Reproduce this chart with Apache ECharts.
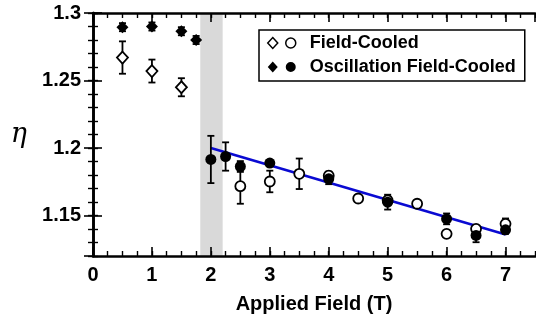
<!DOCTYPE html>
<html>
<head>
<meta charset="utf-8">
<script src="https://cdn.jsdelivr.net/npm/echarts@6/dist/echarts.min.js"></script>
<style>
  html, body { margin: 0; padding: 0; background: #fff; }
  #chart { width: 536px; height: 323px; }
</style>
</head>
<body>
<div id="chart"></div>
<script>
// Field-Cooled (open symbols)
const fcDiamondX = [0.5, 1, 1.5];
const fcDiamondY = [1.267, 1.257, 1.245];
const fcDiamondErr = [0.012, 0.0085, 0.0067];
const fcCircleX = [2.5, 3, 3.5, 4, 4.5, 5, 5.5, 6, 6.5, 7];
const fcCircleY = [1.1717, 1.1752, 1.1809, 1.1795, 1.1626, 1.1612, 1.1587, 1.1364, 1.1401, 1.1438];
const fcCircleErr = [0.013, 0.008, 0.0113, 0.003, 0.002, 0.003, 0.002, 0.002, 0.002, 0.004];

// Oscillation Field-Cooled (filled symbols)
const ofcDiamondX = [0.5, 1, 1.5, 1.75];
const ofcDiamondY = [1.2895, 1.29, 1.2865, 1.28];
const ofcDiamondErr = [0.003, 0.003, 0.003, 0.003];
const ofcCircleX = [2, 2.25, 2.5, 3, 4, 5, 6, 6.5, 7];
const ofcCircleY = [1.1915, 1.1937, 1.1863, 1.1888, 1.1772, 1.1599, 1.1475, 1.1352, 1.1394];
const ofcCircleErr = [0.0175, 0.0105, 0.004, 0.002, 0.004, 0.0055, 0.004, 0.005, 0.003];

// linear fit and shaded band
const fitX = [2, 7];
const fitY = [1.2, 1.136];
const bandX = [1.82, 2.2];

const FONT = 'Liberation Sans';
const pts = (xs, ys) => xs.map((x, i) => [x, ys[i]]);

const errorSeries = (name, xs, ys, errs) => ({
  type: 'custom',
  name,
  z: 2,
  silent: true,
  data: xs.map((x, i) => [x, ys[i] - errs[i], ys[i] + errs[i]]),
  encode: { x: 0, y: [1, 2] },
  renderItem: (params, api) => {
    const lo = api.coord([api.value(0), api.value(1)]);
    const hi = api.coord([api.value(0), api.value(2)]);
    const w = 3.5;
    const style = { stroke: '#000', lineWidth: 1.8 };
    return {
      type: 'group',
      children: [
        { type: 'line', shape: { x1: lo[0], y1: lo[1], x2: hi[0], y2: hi[1] }, style },
        { type: 'line', shape: { x1: lo[0] - w, y1: lo[1], x2: lo[0] + w, y2: lo[1] }, style },
        { type: 'line', shape: { x1: hi[0] - w, y1: hi[1], x2: hi[0] + w, y2: hi[1] }, style },
      ],
    };
  },
});

const openStyle = { color: '#fff', borderColor: '#000', borderWidth: 1.8, opacity: 1 };
const filledStyle = { color: '#000', borderColor: '#000', borderWidth: 0, opacity: 1 };

const majorTick = { show: true, inside: true, length: 9, lineStyle: { color: '#000', width: 1.6 } };
const minorTick = { show: true, inside: true, length: 5, lineStyle: { color: '#000', width: 1.4 } };
const axisLine = { show: true, lineStyle: { color: '#000', width: 2.6 } };
const labelStyle = { color: '#000', fontFamily: FONT, fontWeight: 'bold', fontSize: 20 };

const chart = echarts.init(document.getElementById('chart'), null, { renderer: 'canvas' });

chart.setOption({
  animation: false,
  backgroundColor: '#fff',
  grid: { left: 93, right: 1, top: 13, bottom: 67 },
  legend: {
    orient: 'vertical',
    left: 259,
    top: 30,
    padding: [4, 9, 5, 8],
    itemGap: 6,
    itemWidth: 28,
    itemHeight: 11,
    borderColor: '#000',
    borderWidth: 1.5,
    backgroundColor: '#fff',
    textStyle: { color: '#000', fontFamily: FONT, fontWeight: 'bold', fontSize: 18, padding: [0, 0, 0, 9] },
    icon: 'path://M5,0L10,5.5L5,11L0,5.5Z M18,5.5A5,5 0 1,0 28,5.5A5,5 0 1,0 18,5.5Z',
    data: [
      { name: 'Field-Cooled', itemStyle: { color: '#fff', borderColor: '#000', borderWidth: 1.5, opacity: 1 } },
      { name: 'Oscillation Field-Cooled', itemStyle: { color: '#000', borderColor: '#000', borderWidth: 0, opacity: 1 } },
    ],
  },
  xAxis: [
    {
      type: 'value', position: 'bottom', min: 0, max: 7.5, interval: 1, z: 10,
      axisLine, axisTick: majorTick, splitLine: { show: false },
      axisLabel: { ...labelStyle, margin: 9, showMaxLabel: false },
      name: 'Applied Field (T)', nameLocation: 'middle', nameGap: 38,
      nameTextStyle: { color: '#000', fontFamily: FONT, fontWeight: 'bold', fontSize: 20 },
    },
    {
      type: 'value', position: 'top', min: 0, max: 7.5, interval: 1, z: 10,
      axisLine, axisTick: majorTick, axisLabel: { show: false }, splitLine: { show: false },
    },
    {
      type: 'value', position: 'bottom', min: 0, max: 7.5, interval: 0.25, z: 10,
      axisLine: { show: false }, axisTick: minorTick, axisLabel: { show: false }, splitLine: { show: false },
    },
    {
      type: 'value', position: 'top', min: 0, max: 7.5, interval: 0.25, z: 10,
      axisLine: { show: false }, axisTick: minorTick, axisLabel: { show: false }, splitLine: { show: false },
    },
  ],
  yAxis: [
    {
      type: 'value', position: 'left', min: 1.12, max: 1.3, splitNumber: 4, z: 10,
      axisLine, axisTick: majorTick, splitLine: { show: false },
      axisLabel: { ...labelStyle, margin: 12, showMinLabel: false },
      name: 'η', nameLocation: 'middle', nameGap: 66, nameRotate: 0,
      nameTextStyle: { color: '#000', fontFamily: 'DejaVu Serif', fontStyle: 'italic', fontSize: 27 },
    },
    {
      type: 'value', position: 'right', min: 1.12, max: 1.3, splitNumber: 4, z: 10,
      axisLine, axisTick: majorTick, axisLabel: { show: false }, splitLine: { show: false },
    },
    {
      type: 'value', position: 'left', min: 1.12, max: 1.3, interval: 0.01, z: 10,
      axisLine: { show: false }, axisTick: minorTick, axisLabel: { show: false }, splitLine: { show: false },
    },
    {
      type: 'value', position: 'right', min: 1.12, max: 1.3, interval: 0.01, z: 10,
      axisLine: { show: false }, axisTick: minorTick, axisLabel: { show: false }, splitLine: { show: false },
    },
  ],
  series: [
    {
      name: 'band', type: 'line', z: 0, data: [], silent: true,
      markArea: {
        silent: true,
        itemStyle: { color: '#d9d9d9' },
        data: [[{ xAxis: bandX[0] }, { xAxis: bandX[1] }]],
      },
    },
    {
      name: 'fit', type: 'line', z: 1, silent: true,
      data: pts(fitX, fitY), showSymbol: false, symbol: 'none',
      lineStyle: { color: '#0a0ad2', width: 2.6 },
    },
    errorSeries('errFCd', fcDiamondX, fcDiamondY, fcDiamondErr),
    errorSeries('errFCc', fcCircleX, fcCircleY, fcCircleErr),
    errorSeries('errOFCd', ofcDiamondX, ofcDiamondY, ofcDiamondErr),
    errorSeries('errOFCc', ofcCircleX, ofcCircleY, ofcCircleErr),
    {
      name: 'Field-Cooled', type: 'scatter', z: 3, symbol: 'diamond', symbolSize: [11, 12],
      itemStyle: openStyle, data: pts(fcDiamondX, fcDiamondY),
    },
    {
      name: 'Field-Cooled', type: 'scatter', z: 3, symbol: 'circle', symbolSize: 10,
      itemStyle: openStyle, data: pts(fcCircleX, fcCircleY),
    },
    {
      name: 'Oscillation Field-Cooled', type: 'scatter', z: 4, symbol: 'diamond', symbolSize: [12, 12],
      itemStyle: filledStyle, data: pts(ofcDiamondX, ofcDiamondY),
    },
    {
      name: 'Oscillation Field-Cooled', type: 'scatter', z: 4, symbol: 'circle', symbolSize: 11,
      itemStyle: filledStyle, data: pts(ofcCircleX, ofcCircleY),
    },
  ],
});
</script>
</body>
</html>
